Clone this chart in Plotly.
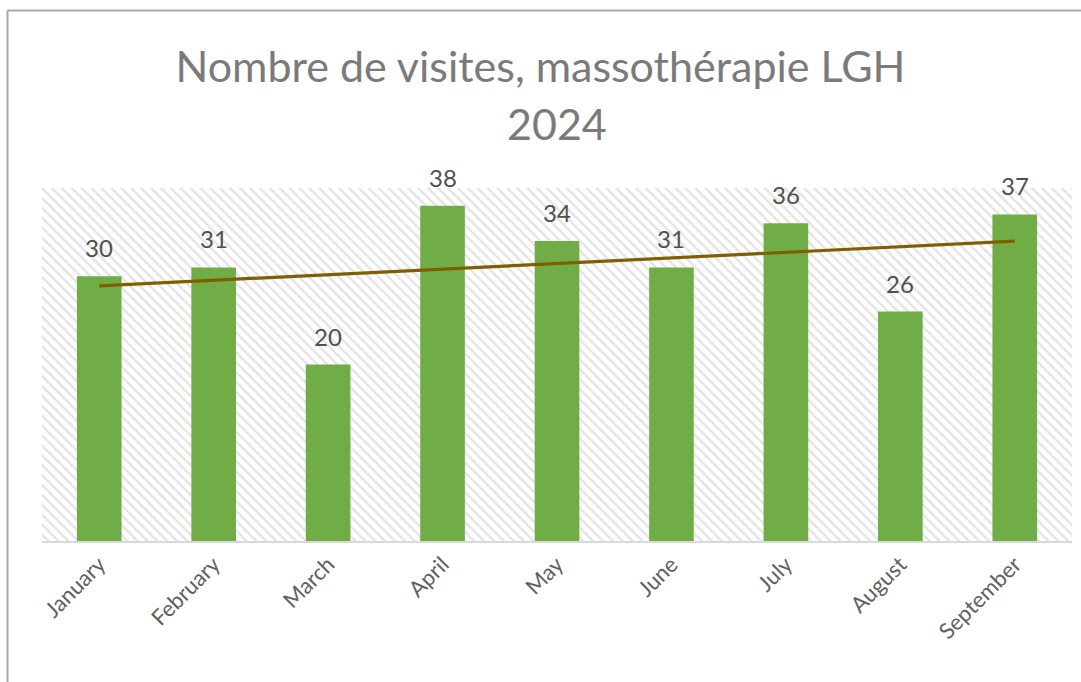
import numpy as np
import plotly.graph_objects as go

months = ["January", "February", "March", "April", "May", "June", "July", "August", "September"]
visits = [30, 31, 20, 38, 34, 31, 36, 26, 37]
title_line1 = "Nombre de visites, massothérapie LGH"
title_line2 = "2024"
y_max = 40

W, H = 1081, 682
ml, mr, mt, mb = 42, 9, 188, 141
pw, ph = W - ml - mr, H - mt - mb

# linear trendline computed from the data
xi = np.arange(1, len(visits) + 1)
slope, intercept = np.polyfit(xi, visits, 1)
trend = slope * xi + intercept

fig = go.Figure()

# hatched plot-area background
fig.add_trace(go.Bar(
    x=[months[len(months) // 2]], y=[y_max], width=[len(months)],
    marker=dict(color="white", line=dict(width=0),
                pattern=dict(shape="\\", fgcolor="#c8c8c8", bgcolor="white", size=7, solidity=0.33)),
    hoverinfo="skip", showlegend=False,
))

fig.add_trace(go.Bar(
    x=months, y=visits, width=0.39,
    marker=dict(color="#70AD47", line=dict(width=0)),
    showlegend=False,
))

fig.add_trace(go.Scatter(
    x=months, y=trend, mode="lines",
    line=dict(color="#7F5F00", width=3.2),
    showlegend=False,
))

for m, v in zip(months, visits):
    fig.add_annotation(x=m, y=v, text=str(v), showarrow=False, yanchor="bottom",
                       yshift=12, font=dict(family="Lato", size=24, color="#505050"))

fig.add_annotation(xref="paper", yref="paper", x=0.5, y=1 + (mt - 124) / ph,
                   text=title_line2, showarrow=False, yanchor="middle",
                   font=dict(family="Lato", size=43, color="#7a7a7a"))

# outer frame (left and top edges visible)
fx0 = (7.5 - ml) / pw
fy0 = 1 + (mt - 10.5) / ph
fig.add_shape(type="line", xref="paper", yref="paper", x0=fx0, x1=fx0, y0=fy0, y1=-(mb + 5) / ph,
              line=dict(color="#a8a8a8", width=2))
fig.add_shape(type="line", xref="paper", yref="paper", x0=fx0, x1=1 + (mr + 5) / pw, y0=fy0, y1=fy0,
              line=dict(color="#a8a8a8", width=2))

fig.update_layout(
    width=W, height=H,
    margin=dict(l=ml, r=mr, t=mt, b=mb),
    paper_bgcolor="white", plot_bgcolor="white",
    barmode="overlay",
    title=dict(text=title_line1, x=0.5, xanchor="center", y=1 - 67 / H, yanchor="middle",
               font=dict(family="Lato", size=43, color="#7a7a7a")),
    xaxis=dict(showgrid=False, tickangle=-45, showline=True, linecolor="#d9d9d9", linewidth=2,
               ticks="", tickfont=dict(family="Lato", size=22, color="#606060"),
               categoryorder="array", categoryarray=months,
               range=[-0.5, len(months) - 0.5]),
    yaxis=dict(range=[0, y_max], showgrid=False, showticklabels=False, zeroline=False, showline=False),
)

fig.write_html("out.html")
